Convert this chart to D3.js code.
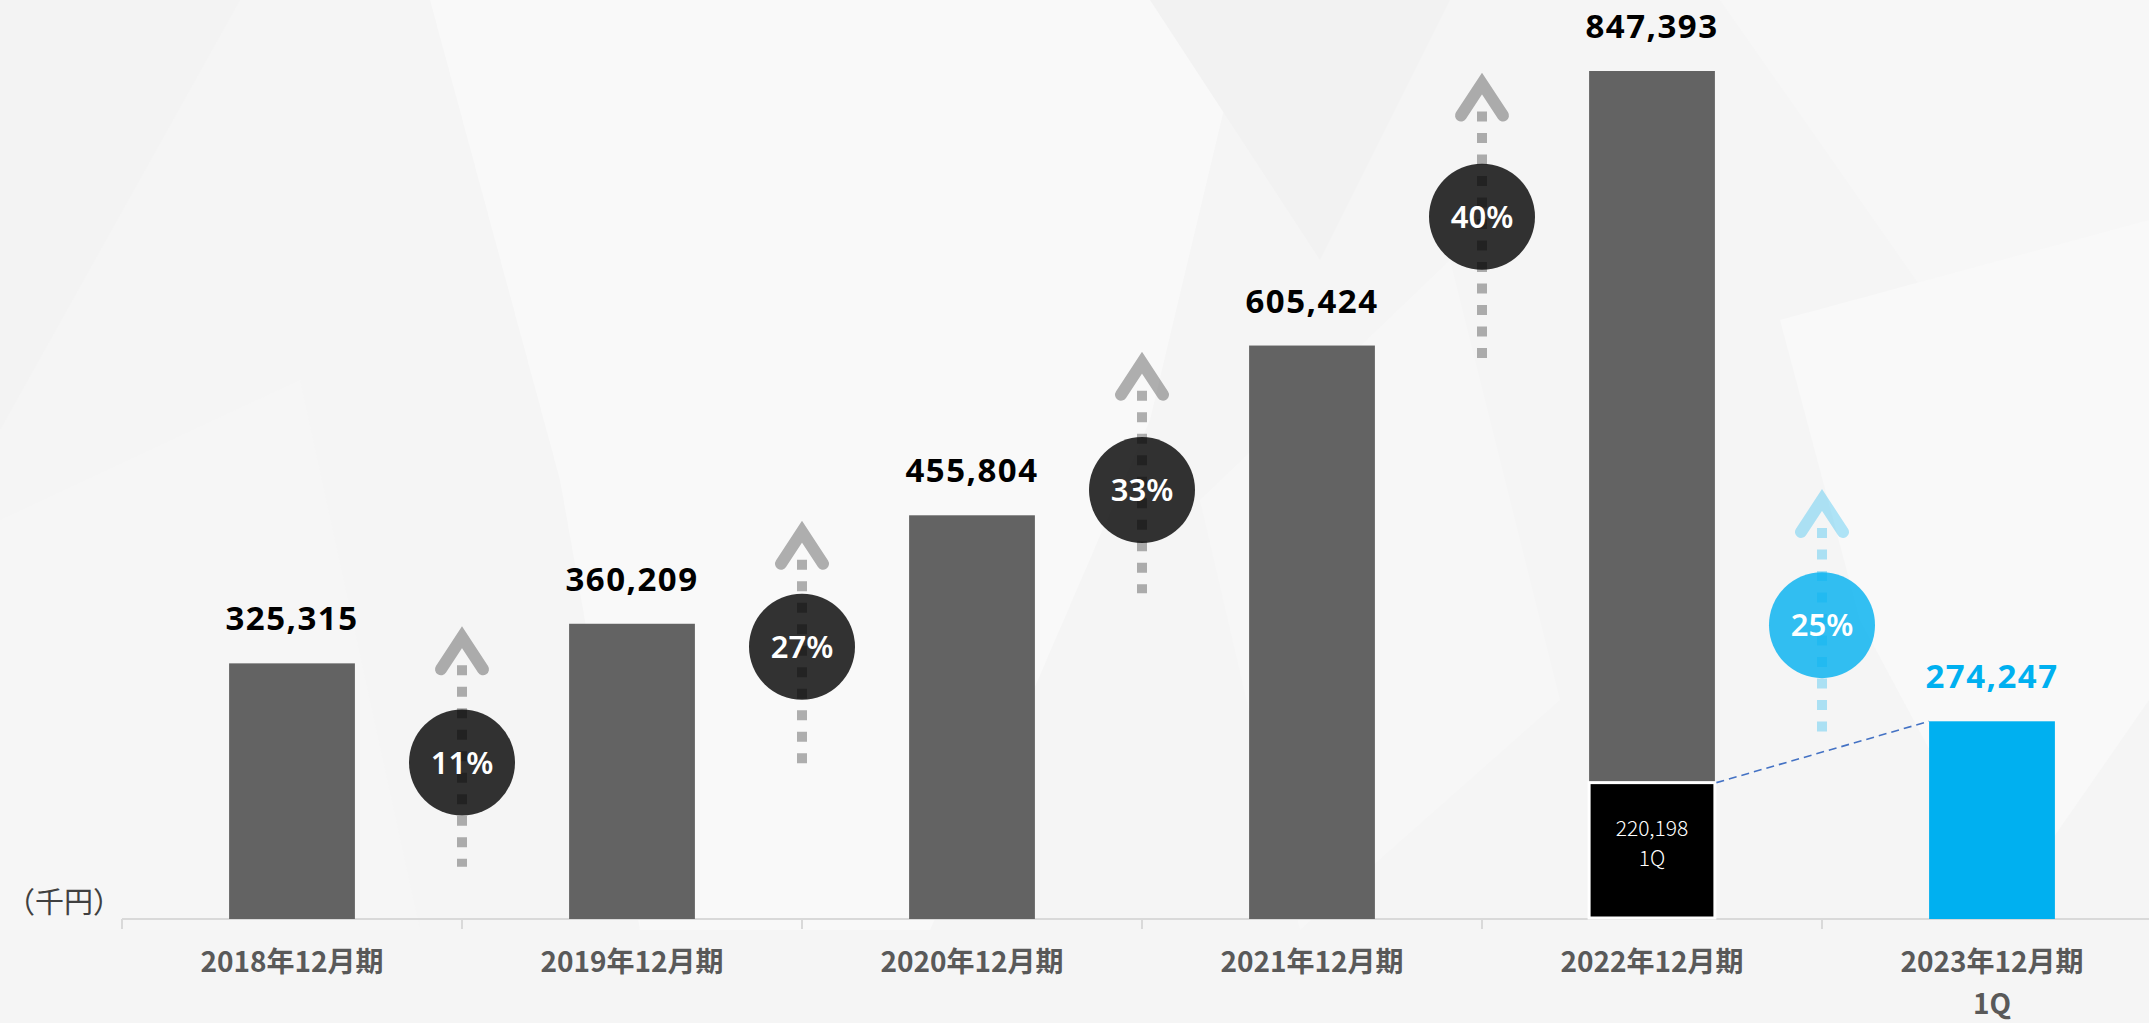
<!DOCTYPE html>
<html>
<head>
<meta charset="utf-8">
<script src="https://cdn.jsdelivr.net/npm/d3@7"></script>
<style>
  body { margin: 0; background: #f5f5f5; overflow: hidden; }
  svg { display: block; }
</style>
</head>
<body>
<div id="chart"></div>
<script>
// categories (fiscal periods) and sales in thousand yen
const categories = ['2018年12月期', '2019年12月期', '2020年12月期', '2021年12月期', '2022年12月期', '2023年12月期'];
const categorySub = ['', '', '', '', '', '1Q'];
const sales = [325315, 360209, 455804, 605424, 847393, 274247];
const q1LastYear = 220198;          // 2022年12月期 1Q
const growthRates = [11, 27, 33, 40, 25];

// where the growth arrows sit, expressed in thousand-yen units of the y scale
const arrowTip = [358000, 451000, 600000, 846000, 479000];
const arrowMid = [238000, 340000, 478000, 719000, 359000];
const arrowTail = [146000, 237000, 387000, 590000, 265000];

const width = 2149, height = 1023;
const baseY = 919;

const svg = d3.select('#chart').append('svg')
    .attr('width', width)
    .attr('height', height);

// faint low-poly background
const bg = svg.append('g');
bg.append('rect').attr('width', width).attr('height', height).attr('fill', '#f5f5f5');
const bgShapes = [
    { pts: [[430, 0], [1250, 0], [1150, 420], [930, 930], [640, 930], [560, 480]], fill: '#f9f9f9' },
    { pts: [[0, 0], [240, 0], [0, 430]], fill: '#f3f3f3' },
    { pts: [[1150, 0], [1450, 0], [1320, 260]], fill: '#f2f2f2' },
    { pts: [[1720, 0], [2149, 0], [2149, 420], [1930, 300]], fill: '#f7f7f7' },
    { pts: [[1780, 320], [2149, 220], [2149, 700], [2010, 900], [1860, 620]], fill: '#f9f9f9' },
    { pts: [[0, 520], [300, 380], [420, 930], [0, 930]], fill: '#f6f6f6' },
    { pts: [[1200, 500], [1450, 260], [1560, 700], [1300, 930]], fill: '#f7f7f7' }
];
bg.selectAll('polygon')
    .data(bgShapes)
    .join('polygon')
    .attr('points', d => d.pts.map(p => p.join(',')).join(' '))
    .attr('fill', d => d.fill);

// scales
const x = d3.scaleBand()
    .domain(categories)
    .range([122, 122 + 340 * categories.length])
    .paddingInner(0.63)
    .paddingOuter(0.315);

const y = d3.scaleLinear()
    .domain([100000, d3.max(sales)])
    .range([baseY, 71]);

const gap = x.step() - x.bandwidth();

// axis line + boundary ticks
const axisG = svg.append('g').attr('transform', `translate(0,${baseY})`);
axisG.append('line')
    .attr('x1', x.range()[0]).attr('x2', width)
    .attr('stroke', '#d9d9d9').attr('stroke-width', 2);
const boundaries = categories.map(c => x(c) - gap / 2);
axisG.selectAll('.btick')
    .data(boundaries)
    .join('line')
    .attr('class', 'btick')
    .attr('x1', d => d).attr('x2', d => d)
    .attr('y1', 0).attr('y2', 10)
    .attr('stroke', '#d9d9d9').attr('stroke-width', 2);

const xAxis = d3.axisBottom(x).tickSize(0).tickPadding(33);
const labelsG = svg.append('g')
    .attr('transform', `translate(0,${baseY})`)
    .call(xAxis);
labelsG.select('.domain').remove();
labelsG.selectAll('text')
    .attr('fill', '#595959')
    .style('font-family', '"Noto Sans CJK JP", "Noto Sans", sans-serif')
    .style('font-size', '28px')
    .style('font-weight', 700)
    .each(function (d, i) {
        if (categorySub[i]) {
            d3.select(this).append('tspan')
                .attr('x', 0)
                .attr('dy', '1.5em')
                .text(categorySub[i]);
        }
    });

// unit
svg.append('text')
    .attr('x', 6).attr('y', 913)
    .attr('fill', '#404040')
    .style('font-family', '"Noto Sans CJK JP", sans-serif')
    .style('font-size', '29px')
    .text('（千円）');

// growth arrows
const arrowColor = (i) => i === growthRates.length - 1 ? '#00b0f0' : '#000000';
const arrows = svg.append('g');
growthRates.forEach((g, i) => {
    const cx = x(categories[i + 1]) - gap / 2;
    const tip = y(arrowTip[i]);
    const tail = y(arrowTail[i]);
    const cy = y(arrowMid[i]);
    const col = arrowColor(i);
    const a = arrows.append('g');
    a.append('line')
        .attr('x1', cx).attr('x2', cx)
        .attr('y1', tip + 39).attr('y2', tail)
        .attr('stroke', col).attr('stroke-opacity', 0.3)
        .attr('stroke-width', 10)
        .attr('stroke-dasharray', '10,11.5');
    a.append('path')
        .attr('d', d3.line()([[cx - 21, tip + 43], [cx, tip + 11], [cx + 21, tip + 43]]))
        .attr('fill', 'none')
        .attr('stroke', col).attr('stroke-opacity', 0.3)
        .attr('stroke-width', 12)
        .attr('stroke-linecap', 'round')
        .attr('stroke-linejoin', 'miter');
    a.append('circle')
        .attr('cx', cx).attr('cy', cy).attr('r', 53)
        .attr('fill', col).attr('fill-opacity', 0.8);
    a.append('text')
        .attr('x', cx).attr('y', cy)
        .attr('dy', '0.36em')
        .attr('text-anchor', 'middle')
        .attr('fill', '#ffffff')
        .style('font-family', '"Noto Sans", sans-serif')
        .style('font-weight', 600)
        .style('font-size', '31px')
        .text(g + '%');
});

// bars
const last = categories.length - 1;
svg.append('g').selectAll('rect')
    .data(sales)
    .join('rect')
    .attr('x', (d, i) => x(categories[i]))
    .attr('y', d => y(d))
    .attr('width', x.bandwidth())
    .attr('height', d => baseY - y(d))
    .attr('fill', (d, i) => i === last ? '#00b0f0' : '#636363');

// 2022 1Q segment inside the 2022 bar
const segX = x(categories[4]);
const segTop = y(q1LastYear);
svg.append('rect')
    .attr('x', segX)
    .attr('y', segTop)
    .attr('width', x.bandwidth())
    .attr('height', baseY - 1 - segTop)
    .attr('fill', '#000000')
    .attr('stroke', '#ffffff')
    .attr('stroke-width', 3);
const segMid = (segTop + baseY) / 2;
const segG = svg.append('g')
    .attr('fill', '#ffffff')
    .style('font-family', '"Noto Sans CJK JP", sans-serif')
    .style('font-weight', 300)
    .style('font-size', '21px');
segG.append('text')
    .attr('x', segX + x.bandwidth() / 2).attr('y', segMid - 15)
    .attr('text-anchor', 'middle')
    .text(d3.format(',')(q1LastYear));
segG.append('text')
    .attr('x', segX + x.bandwidth() / 2).attr('y', segMid + 15)
    .attr('text-anchor', 'middle')
    .text('1Q');

// dashed connector from last year's 1Q to this year's 1Q
svg.append('line')
    .attr('x1', segX + x.bandwidth() + 1.5).attr('y1', segTop)
    .attr('x2', x(categories[last])).attr('y2', y(sales[last]))
    .attr('stroke', '#4472c4')
    .attr('stroke-width', 1.6)
    .attr('stroke-dasharray', '8,5');

// value labels
svg.append('g').selectAll('text')
    .data(sales)
    .join('text')
    .attr('x', (d, i) => x(categories[i]) + x.bandwidth() / 2)
    .attr('y', d => y(d) - 33)
    .attr('text-anchor', 'middle')
    .attr('fill', (d, i) => i === last ? '#00b0f0' : '#000000')
    .style('font-family', '"Noto Sans", sans-serif')
    .style('font-weight', 700)
    .style('font-size', '33px')
    .style('letter-spacing', '1.5px')
    .text(d => d3.format(',')(d));
</script>
</body>
</html>
